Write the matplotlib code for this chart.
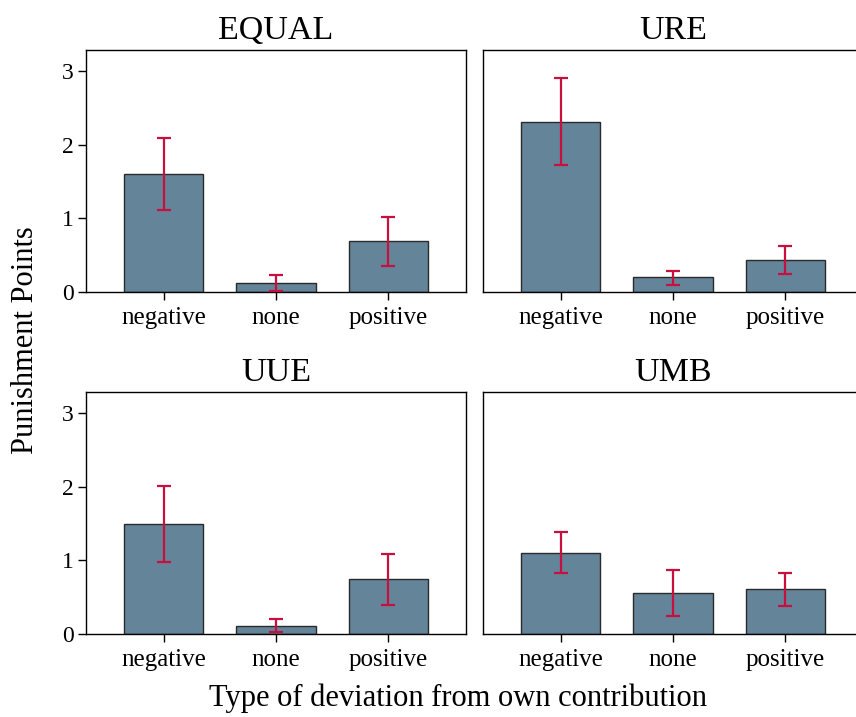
import matplotlib
matplotlib.use("Agg")
import matplotlib.pyplot as plt
import numpy as np

plt.rcParams['font.family'] = ['Liberation Serif', 'DejaVu Serif']

categories = ["negative", "none", "positive"]
panels = ["EQUAL", "URE", "UUE", "UMB"]
means = {
    "EQUAL": [1.60, 0.12, 0.69],
    "URE":   [2.31, 0.20, 0.43],
    "UUE":   [1.49, 0.11, 0.74],
    "UMB":   [1.10, 0.56, 0.61],
}
lower = {
    "EQUAL": [1.11, 0.02, 0.35],
    "URE":   [1.72, 0.10, 0.25],
    "UUE":   [0.98, 0.03, 0.40],
    "UMB":   [0.83, 0.25, 0.38],
}
upper = {
    "EQUAL": [2.09, 0.23, 1.02],
    "URE":   [2.91, 0.29, 0.63],
    "UUE":   [2.01, 0.20, 1.08],
    "UMB":   [1.38, 0.87, 0.83],
}
yticks = [0, 1, 2, 3]

W, H = 856, 717
fig = plt.figure(figsize=(W/100, H/100), dpi=100)

def rect(x0, y0, x1, y1):
    return [x0/W, 1 - y1/H, (x1-x0)/W, (y1-y0)/H]

rects = [rect(86, 50, 466, 292), rect(483, 50, 863, 292),
         rect(86, 392, 466, 634), rect(483, 392, 863, 634)]

bar_color = "#64849a"
err_color = "#c8103f"

for i, (name, r) in enumerate(zip(panels, rects)):
    ax = fig.add_axes(r)
    x = np.arange(len(categories))
    m = np.array(means[name]); lo = np.array(lower[name]); up = np.array(upper[name])
    ax.bar(x, m, width=0.71, color=bar_color, edgecolor="#2a2a2a", linewidth=1.0, zorder=2)
    ax.errorbar(x, m, yerr=[m - lo, up - m], fmt="none", ecolor=err_color,
                elinewidth=1.6, capsize=5, capthick=1.6, zorder=3)
    ax.set_xlim(-0.69, 2.69)
    ax.set_ylim(0, 3.285)
    ax.set_xticks(x)
    ax.set_xticklabels(categories, fontsize=18)
    ax.set_title(name, fontsize=24.5, pad=8)
    for s in ax.spines.values():
        s.set_linewidth(1.0)
        s.set_color("black")
    ax.tick_params(axis="x", length=6, width=1, pad=5)
    if i % 2 == 0:
        ax.set_yticks(yticks)
        ax.set_yticklabels([str(t) for t in yticks], fontsize=17)
        ax.tick_params(axis="y", length=6, width=1, pad=3)
    else:
        ax.set_yticks([])

fig.text(26/W, 1 - 340/H, "Punishment Points", rotation=90, fontsize=22,
         ha="center", va="center")
fig.text(458/W, 1 - 698/H, "Type of deviation from own contribution", fontsize=22,
         ha="center", va="center")

fig.savefig("out.png", dpi=100)
